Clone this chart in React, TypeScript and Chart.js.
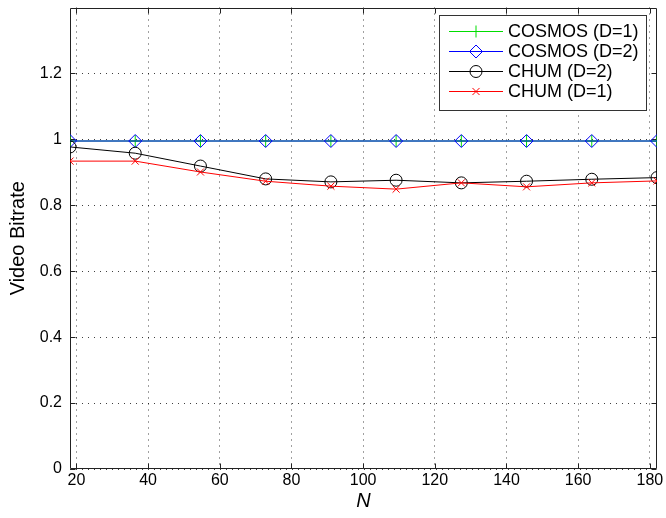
import React, { useEffect, useRef } from 'react';
import { Chart, registerables } from 'chart.js';

Chart.register(...registerables);

// ---- data ----
const N_VALUES = [18.2, 36.4, 54.6, 72.8, 91, 109.2, 127.4, 145.6, 163.8, 182];
const COSMOS_D1 = [0.995, 0.995, 0.995, 0.995, 0.995, 0.995, 0.995, 0.995, 0.995, 0.995];
const COSMOS_D2 = [0.995, 0.995, 0.995, 0.995, 0.995, 0.995, 0.995, 0.995, 0.995, 0.995];
const CHUM_D2 = [0.977, 0.958, 0.919, 0.88, 0.871, 0.876, 0.868, 0.873, 0.879, 0.884];
const CHUM_D1 = [0.934, 0.934, 0.901, 0.873, 0.858, 0.849, 0.868, 0.856, 0.868, 0.874];
const X_TICKS = [20, 40, 60, 80, 100, 120, 140, 160, 180];
const Y_TICKS = [0, 0.2, 0.4, 0.6, 0.8, 1.0, 1.2];
const SERIES_LABELS = ['COSMOS (D=1)', 'COSMOS (D=2)', 'CHUM (D=2)', 'CHUM (D=1)'];
const X_TITLE = 'N';
const Y_TITLE = 'Video Bitrate';

const FONT = "'Liberation Sans', Arial, Helvetica, sans-serif";
const GREEN = '#00dd00';
const BLUE = '#0000ff';
const BLACK = '#000000';
const RED = '#ff0000';

const SERIES = [
  { label: SERIES_LABELS[0], data: COSMOS_D1, color: GREEN, style: 'cross', radius: 6, order: 4 },
  { label: SERIES_LABELS[1], data: COSMOS_D2, color: BLUE, style: 'rectRot', radius: 6.5, order: 3 },
  { label: SERIES_LABELS[2], data: CHUM_D2, color: BLACK, style: 'circle', radius: 6, order: 2 },
  { label: SERIES_LABELS[3], data: CHUM_D1, color: RED, style: 'crossRot', radius: 5, order: 1 },
];

function drawMarker(ctx: CanvasRenderingContext2D, style: string, x: number, y: number, r: number, color: string) {
  ctx.save();
  ctx.setLineDash([]);
  ctx.strokeStyle = color;
  ctx.lineWidth = 1;
  ctx.beginPath();
  if (style === 'cross') {
    ctx.moveTo(x - r, y); ctx.lineTo(x + r, y);
    ctx.moveTo(x, y - r); ctx.lineTo(x, y + r);
  } else if (style === 'crossRot') {
    const d = r * Math.SQRT1_2;
    ctx.moveTo(x - d, y - d); ctx.lineTo(x + d, y + d);
    ctx.moveTo(x + d, y - d); ctx.lineTo(x - d, y + d);
  } else if (style === 'rectRot') {
    ctx.moveTo(x - r, y); ctx.lineTo(x, y - r); ctx.lineTo(x + r, y); ctx.lineTo(x, y + r); ctx.closePath();
  } else {
    ctx.arc(x, y, r, 0, Math.PI * 2);
  }
  ctx.stroke();
  ctx.restore();
}

const framePlugin = {
  id: 'matlabFrame',
  beforeDatasetsDraw(chart: any) {
    const { ctx, chartArea } = chart;
    const { left, right, top, bottom } = chartArea;
    const xs = chart.scales.x;
    const ys = chart.scales.y;
    ctx.save();
    ctx.setLineDash([]);
    ctx.strokeStyle = '#222';
    ctx.lineWidth = 1;
    ctx.beginPath();
    const L = Math.round(left) + 0.5, R = Math.round(right) - 0.5, T = Math.round(top) + 0.5, B = Math.round(bottom) - 0.5;
    ctx.rect(L, T, R - L, B - T);
    const tl = 5;
    X_TICKS.forEach((v) => {
      const px = Math.round(xs.getPixelForValue(v)) + 0.5;
      ctx.moveTo(px, B); ctx.lineTo(px, B - tl);
      ctx.moveTo(px, T); ctx.lineTo(px, T + tl);
    });
    Y_TICKS.forEach((v) => {
      const py = Math.round(ys.getPixelForValue(v)) + 0.5;
      ctx.moveTo(L, py); ctx.lineTo(L + tl, py);
      ctx.moveTo(R, py); ctx.lineTo(R - tl, py);
    });
    ctx.stroke();
    ctx.restore();
  },
  afterDraw(chart: any) {
    const { ctx } = chart;
    ctx.save();
    ctx.setLineDash([]);
    const bx = 439.5, by = 15.5, bw = 207, bh = 95;
    ctx.fillStyle = '#fff';
    ctx.fillRect(bx, by, bw, bh);
    ctx.strokeStyle = '#333';
    ctx.lineWidth = 1;
    ctx.strokeRect(bx, by, bw, bh);
    ctx.font = `18px ${FONT}`;
    ctx.textBaseline = 'middle';
    ctx.textAlign = 'left';
    SERIES.forEach((s, i) => {
      const y = 31.5 + i * 20;
      ctx.strokeStyle = s.color;
      ctx.lineWidth = 1;
      ctx.beginPath();
      ctx.moveTo(449, y);
      ctx.lineTo(503, y);
      ctx.stroke();
      drawMarker(ctx, s.style, 476, y, s.radius, s.color);
      ctx.fillStyle = '#000';
      ctx.fillText(s.label, 508, y + 1);
    });
    ctx.restore();
  },
};

export default function App() {
  const ref = useRef<HTMLCanvasElement | null>(null);
  useEffect(() => {
    if (!ref.current) return;
    const chart = new Chart(ref.current, {
      type: 'line',
      data: {
        datasets: SERIES.map((s) => ({
          label: s.label,
          data: N_VALUES.map((x, i) => ({ x, y: s.data[i] })),
          borderColor: s.color,
          backgroundColor: 'transparent',
          borderWidth: 1,
          pointStyle: s.style as any,
          pointRadius: s.radius,
          pointBorderColor: s.color,
          pointBackgroundColor: 'transparent',
          pointBorderWidth: 1,
          tension: 0,
          fill: false,
          order: s.order,
        })),
      },
      options: {
        animation: false,
        responsive: false,
        devicePixelRatio: 1,
        events: [],
        layout: { padding: { top: 7, right: 9, left: 0, bottom: 0 } },
        plugins: { legend: { display: false }, tooltip: { enabled: false } },
        scales: {
          x: {
            type: 'linear',
            min: 18.2,
            max: 182,
            afterBuildTicks: (s: any) => { s.ticks = X_TICKS.map((v) => ({ value: v })); },
            afterFit: (s: any) => { s.height = 49; s.paddingLeft = 0; s.paddingRight = 0; },
            grid: { color: 'rgba(0,0,0,0.75)', lineWidth: 1, drawTicks: false },
            border: { display: false, dash: [1, 5] },
            ticks: {
              color: '#000',
              font: { family: FONT, size: 16 },
              padding: 2,
              maxRotation: 0,
              autoSkip: false,
              callback: (v: any) => String(v),
            },
            title: {
              display: true,
              text: X_TITLE,
              color: '#000',
              font: { family: FONT, size: 20, style: 'italic' },
              padding: { top: 0, bottom: 5 },
            },
          },
          y: {
            type: 'linear',
            min: 0,
            max: 1.4,
            afterBuildTicks: (s: any) => { s.ticks = Y_TICKS.map((v) => ({ value: v })); },
            afterFit: (s: any) => { s.width = 70; s.paddingTop = 0; s.paddingBottom = 0; },
            grid: { color: 'rgba(0,0,0,0.75)', lineWidth: 1, drawTicks: false },
            border: { display: false, dash: [1, 5] },
            ticks: {
              color: '#000',
              font: { family: FONT, size: 16 },
              padding: 8,
              autoSkip: false,
              callback: (v: any) => String(Number(Number(v).toFixed(1))),
            },
            title: {
              display: true,
              text: Y_TITLE,
              color: '#000',
              font: { family: FONT, size: 20 },
              padding: { top: 6, bottom: 0 },
            },
          },
        },
      },
      plugins: [framePlugin],
    });
    return () => chart.destroy();
  }, []);
  return (
    <div style={{ position: 'fixed', left: 0, top: 0, width: 666, height: 518, background: '#fff' }}>
      <canvas ref={ref} width={666} height={518} style={{ display: 'block' }} />
    </div>
  );
}
